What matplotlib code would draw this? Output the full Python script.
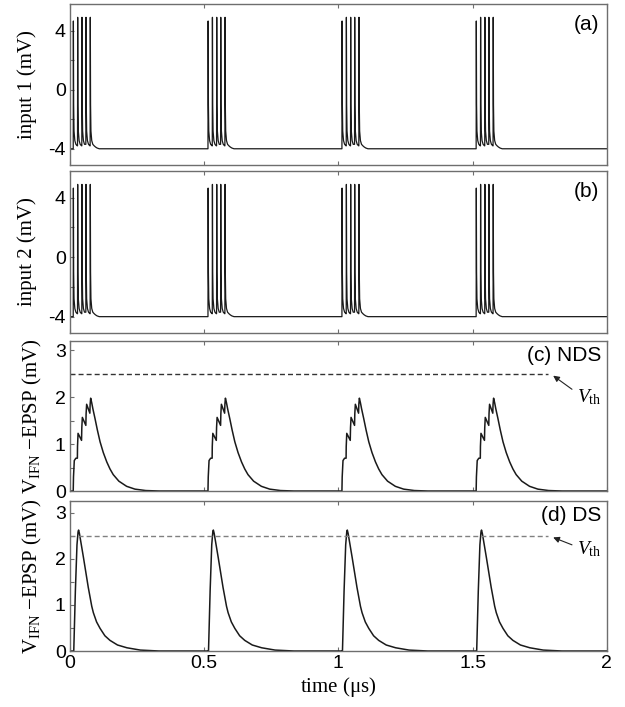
import matplotlib
matplotlib.use("Agg")
import matplotlib.pyplot as plt

plt.rcParams['mathtext.fontset'] = 'custom'
plt.rcParams['mathtext.rm'] = 'Liberation Serif'
plt.rcParams['mathtext.it'] = 'Liberation Serif:italic'

# burst onsets (us)
onsets = [0.012, 0.514, 1.013, 1.513]

# input spikes inside one burst
spike_offsets = [0.0, 0.016, 0.032, 0.047, 0.063]
spike_peaks = [4.65, 4.9, 4.9, 4.9, 4.9]
rest_level = -4.0
# fall of one spike after its peak (dt from spike time, mV)
fall_dt = [0.0006, 0.0016, 0.003, 0.006, 0.010, 0.0150]
fall_v = [None, -1.0, -2.8, -3.45, -3.7, -3.8]
# tail after the last spike of a burst
tail_dt = [0.020, 0.026, 0.034]
tail_v = [-3.88, -3.95, -4.0]

# (c) NDS response to one burst (dt from onset, mV)
nds_dt = [0.0, 0.001, 0.004, 0.010, 0.0155, 0.016, 0.018, 0.031, 0.032, 0.034,
          0.047, 0.048, 0.050, 0.062, 0.063, 0.065, 0.069, 0.073, 0.081, 0.090,
          0.100, 0.112, 0.125, 0.137, 0.149, 0.170, 0.199, 0.230, 0.270, 0.320]
nds_v = [0.0, 0.3, 0.65, 0.70, 0.70, 0.95, 1.23, 1.08, 1.35, 1.57,
         1.40, 1.65, 1.85, 1.66, 1.85, 1.98, 1.88, 1.76, 1.55, 1.30,
         1.05, 0.82, 0.62, 0.47, 0.35, 0.21, 0.10, 0.04, 0.01, 0.0]

# (d) DS response to one burst
ds_dt = [0.0, 0.002, 0.008, 0.014, 0.018, 0.020, 0.023, 0.038, 0.056, 0.069,
         0.075, 0.087, 0.100, 0.118, 0.137, 0.165, 0.200, 0.250, 0.320]
ds_v = [0.0, 0.0, 1.3, 2.3, 2.58, 2.62, 2.55, 2.03, 1.38, 0.97,
        0.83, 0.63, 0.49, 0.33, 0.23, 0.13, 0.07, 0.02, 0.0]

v_th = 2.5
th_end = 1.78
t_end = 2.0

LINE = '#1a1a1a'
FRAME = '#6e6e6e'


def input_trace():
    t = [0.0]
    v = [rest_level]
    for on in onsets:
        t.append(on)
        v.append(rest_level)
        for k, off in enumerate(spike_offsets):
            st = on + off
            t.append(st)
            v.append(v[-1])
            t.append(st + fall_dt[0])
            v.append(spike_peaks[k])
            for dt, fv in zip(fall_dt[1:], fall_v[1:]):
                if k < len(spike_offsets) - 1 and st + dt >= on + spike_offsets[k + 1]:
                    break
                t.append(st + dt)
                v.append(fv)
        last = on + spike_offsets[-1]
        for dt, tv in zip(tail_dt, tail_v):
            t.append(last + dt)
            v.append(tv)
    t.append(t_end)
    v.append(rest_level)
    return t, v


def response_trace(prof_dt, prof_v):
    t = [0.0]
    v = [0.0]
    for on in onsets:
        for dt, pv in zip(prof_dt, prof_v):
            t.append(on + dt)
            v.append(pv)
    t.append(t_end)
    v.append(0.0)
    return t, v


def style_axis(ax):
    for s in ax.spines.values():
        s.set_color(FRAME)
        s.set_linewidth(1.0)
    ax.tick_params(direction='in', top=True, right=False, length=3,
                   width=0.8, color=FRAME, labelsize=14, pad=3)
    for lab in ax.get_yticklabels() + ax.get_xticklabels():
        lab.set_family('Liberation Sans')
    ax.set_xlim(0, t_end)
    ax.set_xticks([0, 0.5, 1, 1.5, 2])


def main():
    fig = plt.figure(figsize=(6.25, 7.07), dpi=100)
    left, width = 0.112, 0.859
    ax_a = fig.add_axes([left, 0.7666, width, 0.2277])
    ax_b = fig.add_axes([left, 0.5290, width, 0.2291])
    ax_c = fig.add_axes([left, 0.3055, width, 0.2122])
    ax_d = fig.add_axes([left, 0.0792, width, 0.2122])

    ti, vi = input_trace()
    for ax, name, tag in [(ax_a, 'input 1 (mV)', '(a)'), (ax_b, 'input 2 (mV)', '(b)')]:
        ax.plot(ti, vi, color=LINE, lw=0.9)
        ax.set_ylim(-5.1, 5.8)
        ax.set_yticks([-4, -2, 0, 2, 4])
        ax.set_yticklabels(['-4', '', '0', '', '4'])
        ax.set_ylabel(name, family='Liberation Serif', fontsize=15, labelpad=8)
        ax.text(0.985, 0.93, tag, transform=ax.transAxes, ha='right', va='top',
                family='Liberation Sans', fontsize=15)
        style_axis(ax)
        ax.set_xticklabels([])

    tc, vc = response_trace(nds_dt, nds_v)
    td, vd = response_trace(ds_dt, ds_v)
    ylab = r'V$_{\mathrm{IFN}}$ $-$EPSP (mV)'
    panels = [(ax_c, tc, vc, '(c) NDS', 3.2, '#333333', (2.17, 2.01)),
              (ax_d, td, vd, '(d) DS', 3.25, '#808080', (2.3, 2.2))]
    for ax, t, v, tag, top, dcol, (tail, txt) in panels:
        ax.plot(t, v, color=LINE, lw=1.1)
        ax.plot([0, th_end], [v_th, v_th], color=dcol, lw=1.0, dashes=(3.6, 2.2))
        ax.annotate('', xy=(th_end + 0.02, v_th - 0.04), xytext=(1.87, tail),
                    arrowprops=dict(arrowstyle='-|>', color='#222222', lw=0.8,
                                    mutation_scale=9, shrinkA=0, shrinkB=0))
        ax.text(1.89, txt, r'$V_{\mathrm{th}}$', fontsize=14, ha='left', va='center')
        ax.set_ylim(0, top)
        ax.set_yticks([0, 0.5, 1, 1.5, 2, 2.5, 3])
        ax.set_yticklabels(['0', '', '1', '', '2', '', '3'])
        ax.set_ylabel(ylab, family='Liberation Serif', fontsize=15, labelpad=8)
        ax.text(0.99, 0.965, tag, transform=ax.transAxes, ha='right', va='top',
                family='Liberation Sans', fontsize=15)
        style_axis(ax)
    ax_c.set_xticklabels([])
    ax_d.set_xticklabels(['0', '0.5', '1', '1.5', '2'])
    for lab in ax_d.get_xticklabels():
        lab.set_family('Liberation Sans')
    ax_d.set_xlabel(r'time ($\mathrm{\mu}$s)', family='Liberation Serif',
                    fontsize=15, labelpad=2)

    fig.savefig('out.png', dpi=100)


if __name__ == "__main__":
    main()
